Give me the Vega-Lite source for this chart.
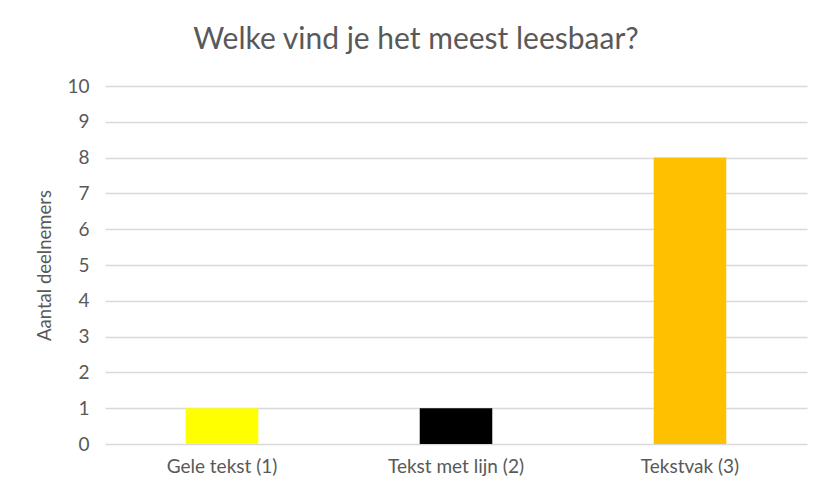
{
  "$schema": "https://vega.github.io/schema/vega-lite/v6.json",
  "autosize": "none",
  "padding": {"left": 105, "top": 86, "right": 27, "bottom": 55},
  "width": 702,
  "height": 358,
  "background": "white",
  "title": {
    "text": "Welke vind je het meest leesbaar?",
    "font": "Lato",
    "fontSize": 30,
    "fontWeight": "normal",
    "color": "#595959",
    "anchor": "middle",
    "dx": -40,
    "offset": 22
  },
  "data": {
    "values": [
      {"categorie": "Gele tekst (1)", "aantal": 1, "kleur": "#FFFF00"},
      {"categorie": "Tekst met lijn (2)", "aantal": 1, "kleur": "#000000"},
      {"categorie": "Tekstvak (3)", "aantal": 8, "kleur": "#FFC000"}
    ]
  },
  "mark": {"type": "bar"},
  "encoding": {
    "x": {
      "field": "categorie",
      "type": "nominal",
      "sort": null,
      "scale": {"paddingInner": 0.69, "paddingOuter": 0.345},
      "axis": {
        "title": null,
        "labelAngle": 0,
        "domain": false,
        "ticks": false,
        "labelFont": "Lato",
        "labelFontSize": 19,
        "labelColor": "#595959",
        "labelPadding": 13
      }
    },
    "y": {
      "field": "aantal",
      "type": "quantitative",
      "scale": {"domain": [0, 10]},
      "axis": {
        "title": "Aantal deelnemers",
        "titleFont": "Lato",
        "titleFontSize": 18.5,
        "titleFontWeight": "normal",
        "titleColor": "#595959",
        "titlePadding": 12,
        "values": [0, 1, 2, 3, 4, 5, 6, 7, 8, 9, 10],
        "labelOverlap": false,
        "domain": false,
        "ticks": false,
        "labelFont": "Lato",
        "labelFontSize": 19,
        "labelColor": "#595959",
        "labelPadding": 16,
        "grid": true,
        "gridColor": "#d9d9d9",
        "gridWidth": 1.5
      }
    },
    "color": {"field": "kleur", "type": "nominal", "scale": null, "legend": null}
  },
  "config": {"view": {"stroke": null}}
}
